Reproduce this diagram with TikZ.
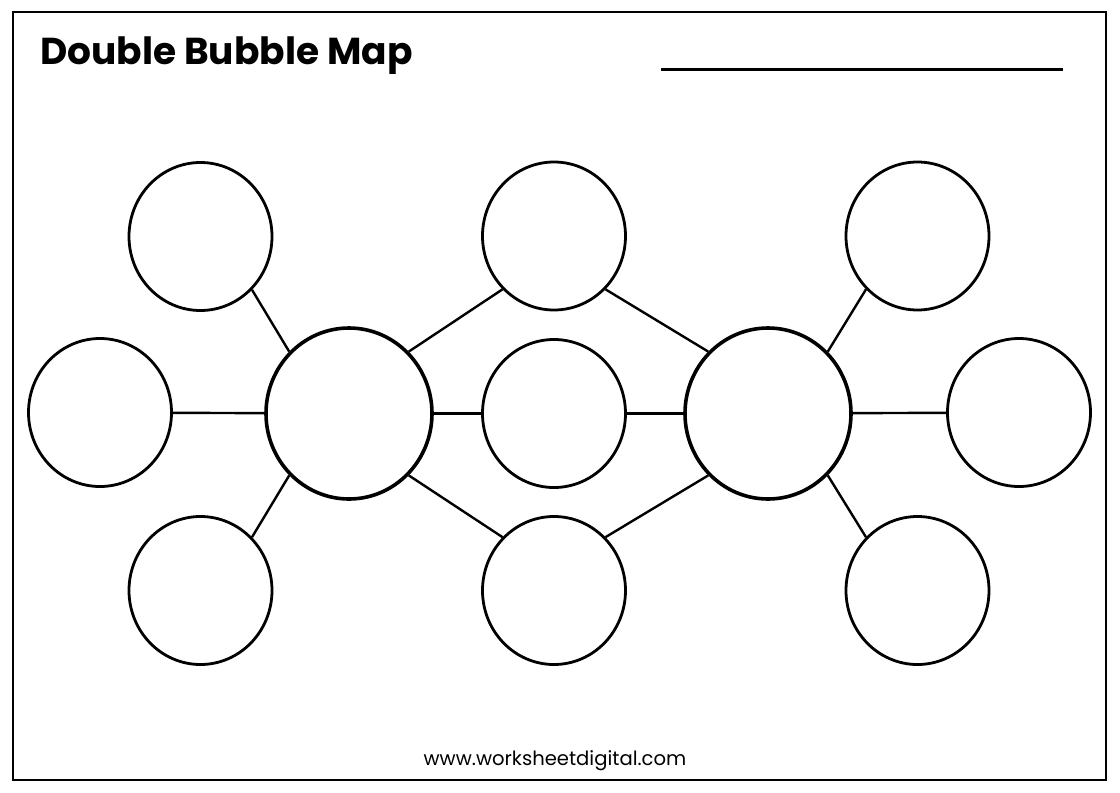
\documentclass[tikz,border=0pt]{standalone}
\usepackage{fontspec}
\setmainfont{Poppins}
\usetikzlibrary{shapes.geometric}
\tikzset{
  smallbub/.style={ellipse, draw=black, line width=2.8pt, minimum width=143pt, minimum height=148pt, inner sep=0pt},
  bigbub/.style={ellipse, draw=black, line width=3.6pt, minimum width=166pt, minimum height=171pt, inner sep=0pt},
  link/.style={draw=black, line width=2.4pt},
}
\begin{document}
\begin{tikzpicture}[x=1pt,y=-1pt]
\useasboundingbox (0,0) rectangle (1120,793);
\fill[white] (0,0) rectangle (1120,793);
\draw[line width=2pt] (13,12) rectangle (1106,780);
\node[anchor=base west, inner sep=0pt, font=\fontsize{37.5}{40}\selectfont\bfseries] (title) at (40,64) {Double Bubble Map};
\coordinate (ls) at (661,69);
\coordinate (le) at (1063,69);
\draw[line width=3pt] (ls) -- (le);
\node[anchor=base, inner sep=0pt, font=\fontsize{19.6}{21}\selectfont] (foot) at (555,765) {www.worksheetdigital.com};
% big
\node[bigbub] (A) at (349,413.5) {};
\node[bigbub] (B) at (768,413.5) {};
% small
\node[smallbub] (tl) at (200.5,236.5) {};
\node[smallbub] (l) at (100,412.5) {};
\node[smallbub] (bl) at (200.5,590.5) {};
\node[smallbub] (tc) at (554,236) {};
\node[smallbub] (c) at (554,413.5) {};
\node[smallbub] (bc) at (554,590.5) {};
\node[smallbub] (tr) at (917.5,236) {};
\node[smallbub] (r) at (1019,412.5) {};
\node[smallbub] (br) at (917.5,590.5) {};
% links
\draw[link] (tl.-46) -- (A.134);
\draw[link] (l) -- (A);
\draw[link] (bl.46) -- (A.-134);
\draw[link] (tc.-134) -- (A.46);
\draw[link] (c) -- (A);
\draw[link] (bc.134) -- (A.-46);
\draw[link] (tc.-46) -- (B.134);
\draw[link] (c) -- (B);
\draw[link] (bc.46) -- (B.-134);
\draw[link] (tr.-134) -- (B.46);
\draw[link] (r) -- (B);
\draw[link] (br.134) -- (B.-46);
\end{tikzpicture}
\end{document}
